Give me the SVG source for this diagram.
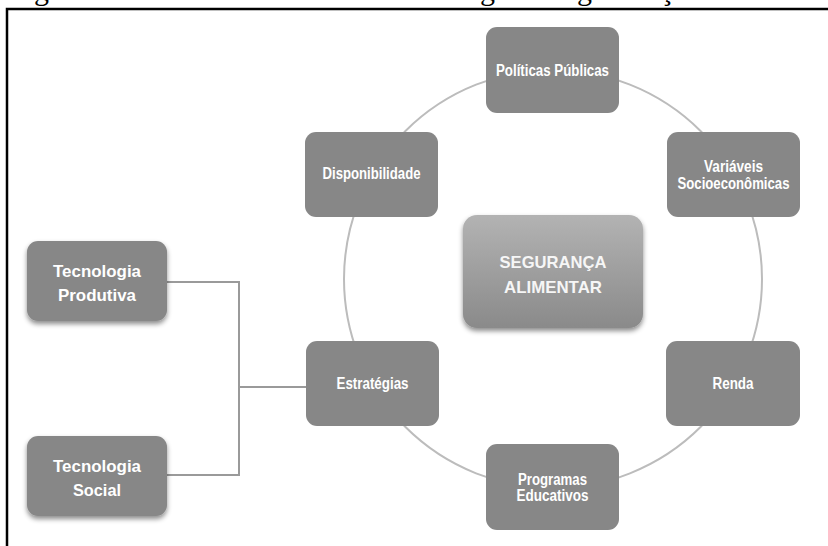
<svg xmlns="http://www.w3.org/2000/svg" width="828" height="546" viewBox="0 0 828 546">
  <defs>
    <linearGradient id="centerFill" x1="0" y1="0" x2="0" y2="1">
      <stop offset="0" stop-color="#b3b3b3"/>
      <stop offset="1" stop-color="#8a8a8a"/>
    </linearGradient>
    <filter id="shadow" x="-20%" y="-20%" width="140%" height="150%">
      <feDropShadow dx="0" dy="3" stdDeviation="2.5" flood-color="#000" flood-opacity="0.45"/>
    </filter>
  </defs>
  <style>
    .node { fill: #878787; }
    .lbl { fill: #ffffff; font-family: "Liberation Sans", Arial, sans-serif; font-weight: bold; font-size: 16px; text-anchor: middle; }
    .big { fill: #ffffff; font-family: "Liberation Sans", Arial, sans-serif; font-weight: bold; font-size: 17px; text-anchor: middle; }
    .ctr { fill: #f6f6f6; font-family: "Liberation Sans", Arial, sans-serif; font-weight: bold; font-size: 17px; text-anchor: middle; }
    .wire { fill: none; stroke: #9a9a9a; stroke-width: 2; }
    .ring { fill: none; stroke: #bcbcbc; stroke-width: 2; }
    .frame { fill: none; stroke: #000; stroke-width: 2.5; }
    .cap { fill: #000; font-family: "Liberation Serif", serif; font-size: 30px; }
  </style>

  <rect width="828" height="546" fill="#ffffff"/>

  <!-- caption line above the frame, mostly off-canvas -->
  <g id="caption">
    <text class="cap" x="34" y="0">g</text>
    <text class="cap" x="480" y="0">g</text>
    <text class="cap" x="577" y="0">g</text>
    <text class="cap" x="660" y="0">ç</text>
  </g>

  <!-- frame -->
  <path class="frame" d="M7,546 V9 H828"/>

  <!-- connectors -->
  <g id="connectors">
    <circle class="ring" cx="553" cy="279" r="209"/>
    <path class="wire" d="M167,282 H239 V475 H167 M239,387 H306"/>
  </g>

  <g id="n-politicas">
    <rect class="node" x="486" y="27" width="133" height="86" rx="11"/>
    <text class="lbl" x="552.5" y="76" textLength="113" lengthAdjust="spacingAndGlyphs">Políticas Públicas</text>
  </g>

  <g id="n-disponibilidade">
    <rect class="node" x="305" y="132" width="133" height="85" rx="11"/>
    <text class="lbl" x="371.5" y="179" textLength="98" lengthAdjust="spacingAndGlyphs">Disponibilidade</text>
  </g>

  <g id="n-variaveis">
    <rect class="node" x="667" y="132" width="133" height="85" rx="11"/>
    <text class="lbl" x="733.5" y="172" textLength="59" lengthAdjust="spacingAndGlyphs">Variáveis</text>
    <text class="lbl" x="733.5" y="189" textLength="112" lengthAdjust="spacingAndGlyphs">Socioeconômicas</text>
  </g>

  <g id="n-seguranca">
    <rect x="463" y="215" width="180" height="113" rx="14" fill="url(#centerFill)" filter="url(#shadow)"/>
    <text class="ctr" x="553" y="268" textLength="107" lengthAdjust="spacingAndGlyphs">SEGURANÇA</text>
    <text class="ctr" x="553" y="293" textLength="98" lengthAdjust="spacingAndGlyphs">ALIMENTAR</text>
  </g>

  <g id="n-estrategias">
    <rect class="node" x="306" y="341" width="133" height="85" rx="11"/>
    <text class="lbl" x="372.5" y="389" textLength="72" lengthAdjust="spacingAndGlyphs">Estratégias</text>
  </g>

  <g id="n-renda">
    <rect class="node" x="666" y="341" width="134" height="85" rx="11"/>
    <text class="lbl" x="733" y="389" textLength="41" lengthAdjust="spacingAndGlyphs">Renda</text>
  </g>

  <g id="n-programas">
    <rect class="node" x="486" y="444" width="133" height="86" rx="11"/>
    <text class="lbl" x="552.5" y="485" textLength="69" lengthAdjust="spacingAndGlyphs">Programas</text>
    <text class="lbl" x="552.5" y="501" textLength="72" lengthAdjust="spacingAndGlyphs">Educativos</text>
  </g>

  <g id="n-tec-produtiva">
    <rect class="node" x="27" y="241" width="140" height="80" rx="11" filter="url(#shadow)"/>
    <text class="big" x="97" y="277" textLength="88" lengthAdjust="spacingAndGlyphs">Tecnologia</text>
    <text class="big" x="97" y="301" textLength="78" lengthAdjust="spacingAndGlyphs">Produtiva</text>
  </g>

  <g id="n-tec-social">
    <rect class="node" x="27" y="436" width="140" height="80" rx="11" filter="url(#shadow)"/>
    <text class="big" x="97" y="472" textLength="88" lengthAdjust="spacingAndGlyphs">Tecnologia</text>
    <text class="big" x="97" y="496" textLength="48" lengthAdjust="spacingAndGlyphs">Social</text>
  </g>
</svg>
